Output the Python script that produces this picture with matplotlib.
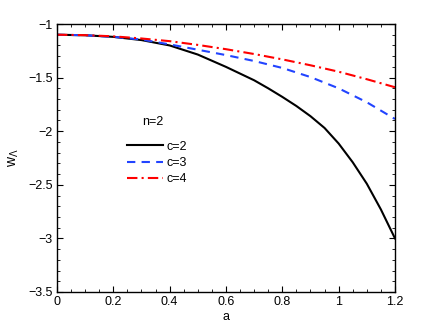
import matplotlib
matplotlib.use("Agg")
import matplotlib.pyplot as plt
from matplotlib.ticker import MultipleLocator

# values
a_c2 = [0.0, 0.1, 0.2, 0.3, 0.4, 0.5, 0.6, 0.7, 0.75, 0.8, 0.85, 0.9, 0.95, 1.0,
        1.05, 1.1, 1.15, 1.2]
w_c2 = [-1.10, -1.105, -1.12, -1.15, -1.20, -1.285, -1.40, -1.525, -1.60, -1.68,
        -1.765, -1.86, -1.97, -2.115, -2.29, -2.49, -2.73, -3.00]
a_c34 = [0.0, 0.1, 0.2, 0.3, 0.4, 0.5, 0.6, 0.7, 0.8, 0.9, 1.0, 1.1, 1.2]
w_c3 = [-1.10, -1.105, -1.12, -1.145, -1.19, -1.24, -1.29, -1.345, -1.41, -1.495,
        -1.60, -1.73, -1.886]
w_c4 = [-1.10, -1.104, -1.115, -1.135, -1.16, -1.195, -1.235, -1.28, -1.33, -1.385,
        -1.445, -1.515, -1.59]

x_ticks = [0, 0.2, 0.4, 0.6, 0.8, 1.0, 1.2]
x_labels = ["0", "0.2", "0.4", "0.6", "0.8", "1", "1.2"]
y_ticks = [-3.5, -3, -2.5, -2, -1.5, -1]
y_labels = ["\u22123.5", "\u22123", "\u22122.5", "\u22122", "\u22121.5", "\u22121"]

plt.rcParams["font.family"] = ["Liberation Sans", "DejaVu Sans"]
plt.rcParams["mathtext.fontset"] = "custom"
plt.rcParams["mathtext.rm"] = "Liberation Sans"

fig = plt.figure(figsize=(4.36, 3.28), dpi=100)
ax = fig.add_axes([0.1307, 0.1098, 0.7752, 0.8170])

ax.plot(a_c2, w_c2, color="black", lw=1.5, label="c=2")
ax.plot(a_c34, w_c3, color="#2244ff", lw=1.5, ls=(0, (4, 3)), label="c=3")
ax.plot(a_c34, w_c4, color="red", lw=1.5, ls=(0, (5, 2, 1, 2)), label="c=4")

ax.set_xlim(0, 1.2)
ax.set_ylim(-3.5, -1)
ax.set_xticks(x_ticks)
ax.set_xticklabels(x_labels)
ax.set_yticks(y_ticks)
ax.set_yticklabels(y_labels)
ax.xaxis.set_minor_locator(MultipleLocator(0.05))
ax.yaxis.set_minor_locator(MultipleLocator(0.1))
ax.tick_params(which="both", direction="in", top=True, right=True, labelsize=9)
ax.tick_params(which="major", length=4, pad=3)
ax.tick_params(which="minor", length=2)
for s in ax.spines.values():
    s.set_linewidth(1.0)

ax.set_xlabel("a", fontsize=9, labelpad=2)
ax.set_ylabel(r"w$_{\Lambda}$", fontsize=10, labelpad=5)

ax.text(0.284, 0.634, "n=2", transform=ax.transAxes, fontsize=9, ha="center", va="center")
ax.legend(frameon=False, loc="upper left", bbox_to_anchor=(0.207, 0.565), fontsize=9,
          handlelength=2.9, handletextpad=0.3, labelspacing=0.35, borderpad=0,
          borderaxespad=0)

fig.savefig("out.png", dpi=100)
